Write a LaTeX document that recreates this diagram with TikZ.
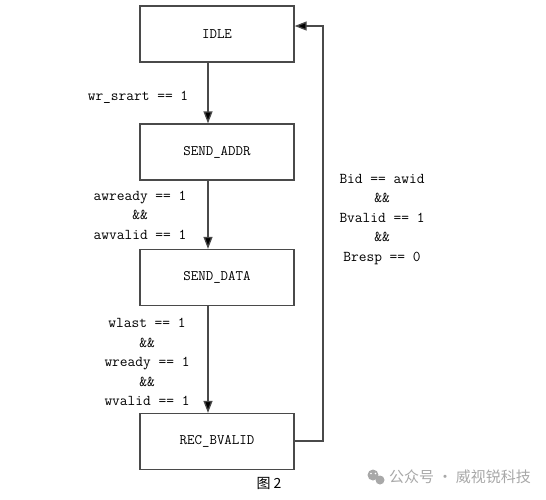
\documentclass[tikz,border=0pt]{standalone}
\usepackage{fontspec}
\newfontfamily\cjk{Noto Sans CJK SC}
\usetikzlibrary{arrows.meta,calc}
\definecolor{linegray}{HTML}{4A4A4A}
\definecolor{wmgray}{HTML}{A8A8A8}
\tikzset{
  statebox/.style={draw=linegray, line width=1.3pt, minimum width=154pt, minimum height=56pt, inner sep=0pt, font=\ttfamily\fontsize{14.5}{16}\selectfont},
  arr/.style={draw=linegray, line width=1.3pt, -{Triangle[length=12pt,width=9pt,fill=black]}},
  cond/.style={align=center, inner sep=0pt, font=\ttfamily\fontsize{15}{19.5}\selectfont},
}
\begin{document}
\begin{tikzpicture}[x=1pt,y=-1pt]
\useasboundingbox (0,0) rectangle (546,499);
\node[statebox] (idle) at (217,34) {IDLE};
\node[statebox] (addr) at (217,152) {SEND\_ADDR};
\node[statebox] (data) at (217,277.5) {SEND\_DATA};
\node[statebox] (rec) at (217,441.5) {REC\_BVALID};
\draw[arr] ([xshift=-9pt]idle.south) -- ([xshift=-9pt]addr.north);
\draw[arr] ([xshift=-9pt]addr.south) -- ([xshift=-9pt]data.north);
\draw[arr] ([xshift=-9pt]data.south) -- ([xshift=-9pt]rec.north);
\coordinate (turn) at (323,441);
\draw[arr] (rec.east |- turn) -- (turn) |- ([yshift=8pt]idle.east);
\node[cond] (c1) at (138,97) {wr\_srart == 1};
\node[cond] (c2) at (140,215) {awready == 1\\\&\&\\awvalid == 1};
\node[cond] (c3) at (147,362) {wlast == 1\\\&\&\\wready == 1\\\&\&\\wvalid == 1};
\node[cond] (c4) at (382,219.5) {Bid == awid\\\&\&\\Bvalid == 1\\\&\&\\Bresp == 0};
\node[font=\cjk\fontsize{14}{16}\selectfont, inner sep=0pt] (cap) at (269,483) {图 2};
\fill[wmgray] (373,475) circle (5.5pt);
\fill[wmgray] (380,480) circle (4.5pt);
\fill[white] (371,473.5) circle (0.9pt) (375.5,473.5) circle (0.9pt);
\node[font=\cjk\fontsize{15}{17}\selectfont, text=wmgray, inner sep=0pt, anchor=west] (wm) at (389,477) {公众号 · 威视锐科技};
\end{tikzpicture}
\end{document}
